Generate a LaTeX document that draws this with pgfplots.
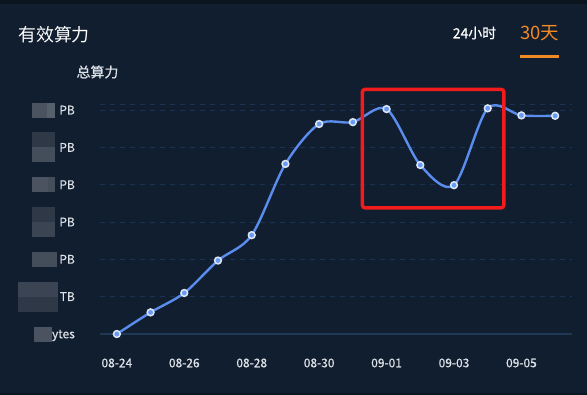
\documentclass[border=0pt]{standalone}
\usepackage{pgfplots}
\pgfplotsset{compat=1.18}
\usepackage{fontspec}
\setmainfont{Noto Sans CJK SC}
\newfontfamily\medfont[FakeBold=0.6]{Noto Sans CJK SC}
\definecolor{bg}{HTML}{111E2F}
\definecolor{bgdark}{HTML}{0B1520}
\definecolor{gridc}{HTML}{1B3250}
\definecolor{axisc}{HTML}{1E3856}
\definecolor{linec}{HTML}{5A8DEE}
\definecolor{markf}{HTML}{6A9CF5}
\definecolor{markd}{HTML}{DCE6F5}
\definecolor{lab}{HTML}{DDE2E8}
\definecolor{orng}{HTML}{F08A24}
\definecolor{redbox}{HTML}{F21C1C}
\definecolor{ga}{HTML}{4A535F}
\definecolor{gb}{HTML}{56606B}
\definecolor{gc}{HTML}{2E3846}
\definecolor{gd}{HTML}{444E5B}
\definecolor{ge}{HTML}{3A4452}
\newcommand{\bx}[4]{\textcolor{#1}{\rule[#4]{#2}{#3}}}
\begin{document}
\begin{tikzpicture}
\fill[bg] (0bp,0bp) rectangle (587bp,395bp);
\fill[bgdark] (0bp,391bp) rectangle (587bp,395bp);
\fill[bgdark] (0bp,0bp) rectangle (587bp,2bp);
\node[anchor=west, inner sep=0, text=white, font=\fontsize{18}{21}\selectfont] at (18bp,360bp) {有效算力};
\node[inner sep=0, text=lab, font=\medfont\fontsize{14}{16}\selectfont] at (97.5bp,323bp) {总算力};
\node[inner sep=0, text=white, font=\medfont\fontsize{14}{16}\selectfont] at (474.5bp,362bp) {24小时};
\node[inner sep=0, text=orng, font=\fontsize{18.5}{21}\selectfont] at (539.5bp,362bp) {30天};
\fill[orng] (520bp,336.5bp) rectangle (559bp,339.5bp);
\begin{axis}[
  at={(100bp,61bp)}, anchor=south west,
  scale only axis, width=472bp, height=235bp,
  xmin=-0.5, xmax=13.5, ymin=0, ymax=6.3,
  clip=false,
  separate axis lines,
  axis x line*=bottom, axis y line*=left,
  x axis line style={draw=axisc, line width=1.2bp, -},
  y axis line style={draw=none},
  major tick length=0pt,
  ymajorgrids,
  grid style={draw=gridc, line width=0.9bp, dash pattern=on 5bp off 5bp},
  xtick={0,2,...,12},
  xticklabels={08-24,08-26,08-28,08-30,09-01,09-03,09-05},
  xticklabel style={anchor=center, yshift=-29bp, inner sep=0, text=lab, font=\medfont\fontsize{12}{14}\selectfont},
  ytick={0,...,6},
  yticklabels={
    {\bx{ga}{18bp}{15bp}{-3.2bp}ytes},
    {\rlap{\bx{ge}{40bp}{15bp}{4.3bp}}\bx{gc}{40bp}{15bp}{-10.7bp}\hspace{2bp}TB},
    {\bx{gd}{25bp}{15bp}{-3.2bp}\hspace{2bp}PB},
    {\rlap{\bx{gc}{23bp}{15bp}{4.3bp}}\bx{ge}{23bp}{15bp}{-10.7bp}\hspace{4bp}PB},
    {\bx{ga}{16bp}{15bp}{-3.2bp}\bx{gd}{7bp}{15bp}{-3.2bp}\hspace{4bp}PB},
    {\rlap{\bx{gc}{23bp}{15bp}{4.3bp}}\bx{gd}{23bp}{15bp}{-10.7bp}\hspace{4bp}PB},
    {\bx{ga}{15bp}{15bp}{-3.2bp}\bx{gb}{8bp}{15bp}{-3.2bp}\hspace{4bp}PB}},
  yticklabel style={anchor=base east, xshift=-25bp, yshift=-4.3bp, inner sep=0, text=lab, font=\medfont\fontsize{12}{14}\selectfont},
]
\draw[gridc, line width=0.9bp, dash pattern=on 5bp off 5bp] (axis cs:-0.5,6.15) -- (axis cs:13.5,6.15);
\addplot[smooth, tension=0.5, draw=linec, line width=2.4bp, mark=*, mark size=3.4bp,
  mark options={fill=markf, draw=markd, line width=1.5bp}] coordinates {
  (0,0) (1,0.58) (2,1.10) (3,1.97) (4,2.65) (5,4.56) (6,5.63)
  (7,5.68) (8,6.03) (9,4.53) (10,3.99) (11,6.05) (12,5.86) (13,5.85)
};
\draw[redbox, line width=3.5bp, rounded corners=3bp] (axis cs:7.28,6.56) rectangle (axis cs:11.48,3.38);
\end{axis}
\end{tikzpicture}
\end{document}
